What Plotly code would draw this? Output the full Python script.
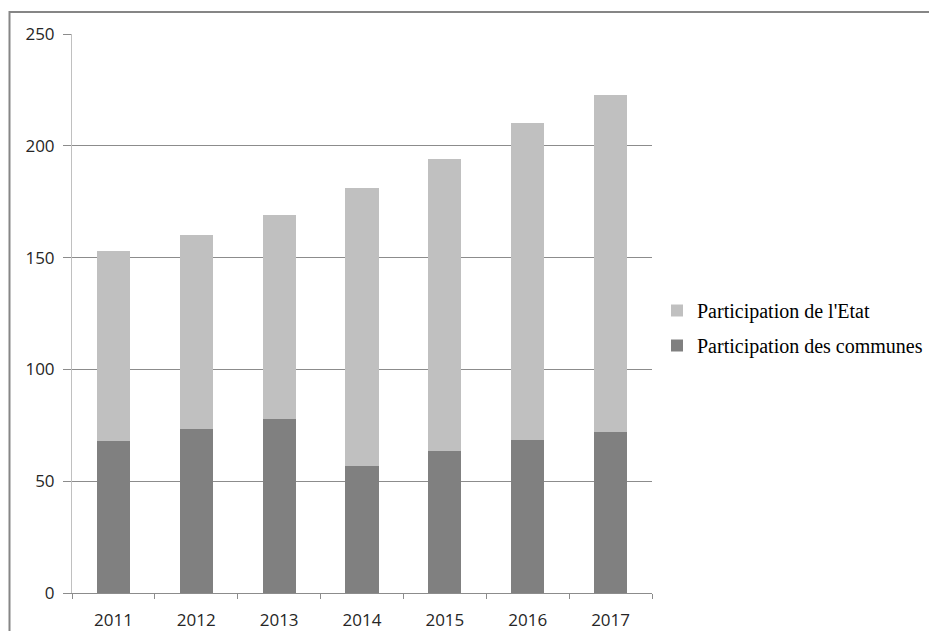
import plotly.graph_objects as go

years = ["2011", "2012", "2013", "2014", "2015", "2016", "2017"]
communes = [68, 73.5, 78, 57, 63.5, 68.5, 72]
etat = [85, 86.5, 91, 124, 130.5, 141.5, 150.5]
y_ticks = [0, 50, 100, 150, 200, 250]

W, H = 929, 631
L, R, T, B = 72, 277, 34, 38
pw, ph = W - L - R, H - T - B

fig = go.Figure()
fig.add_trace(go.Bar(x=years, y=communes, name="Participation des communes",
                     legendgroup="c", legendrank=2,
                     marker=dict(color="#808080", line=dict(width=0))))
fig.add_trace(go.Bar(x=years, y=etat, name="Participation de l'Etat",
                     legendgroup="e", legendrank=1,
                     marker=dict(color="#c0c0c0", line=dict(width=0))))

tick_font = dict(family="Open Sans", size=17, color="#262626")

fig.update_layout(
    width=W, height=H,
    margin=dict(l=L, r=R, t=T, b=B, pad=0, autoexpand=False),
    barmode="stack", bargap=0.6,
    plot_bgcolor="white", paper_bgcolor="white",
    showlegend=True,
    legend=dict(x=(657 - L) / pw, y=(H - B - 328) / ph, xanchor="left", yanchor="middle",
                traceorder="grouped", tracegroupgap=6,
                font=dict(family="Liberation Serif", size=20, color="#000000"),
                bgcolor="rgba(0,0,0,0)", itemwidth=30),
    xaxis=dict(showline=True, linecolor="#8c8c8c", linewidth=1, ticks="outside",
               tickson="boundaries", ticklen=5, tickcolor="#8c8c8c", showgrid=False,
               tickfont=tick_font, ticklabelstandoff=12, automargin=False),
    yaxis=dict(range=[0, 250], tickvals=y_ticks, showgrid=True, gridcolor="#8c8c8c",
               gridwidth=1, zeroline=False, showline=True, linecolor="#c0c0c0",
               linewidth=1, ticks="outside", ticklen=8, tickcolor="#8c8c8c",
               tickfont=tick_font, ticklabelstandoff=5, automargin=False),
    shapes=[dict(type="rect", xref="paper", yref="paper",
                 x0=(9.5 - L) / pw, y0=-2, x1=3, y1=(H - B - 12) / ph,
                 line=dict(color="#868686", width=2), fillcolor="rgba(0,0,0,0)", layer="below")],
)

fig.write_html("out.html")
